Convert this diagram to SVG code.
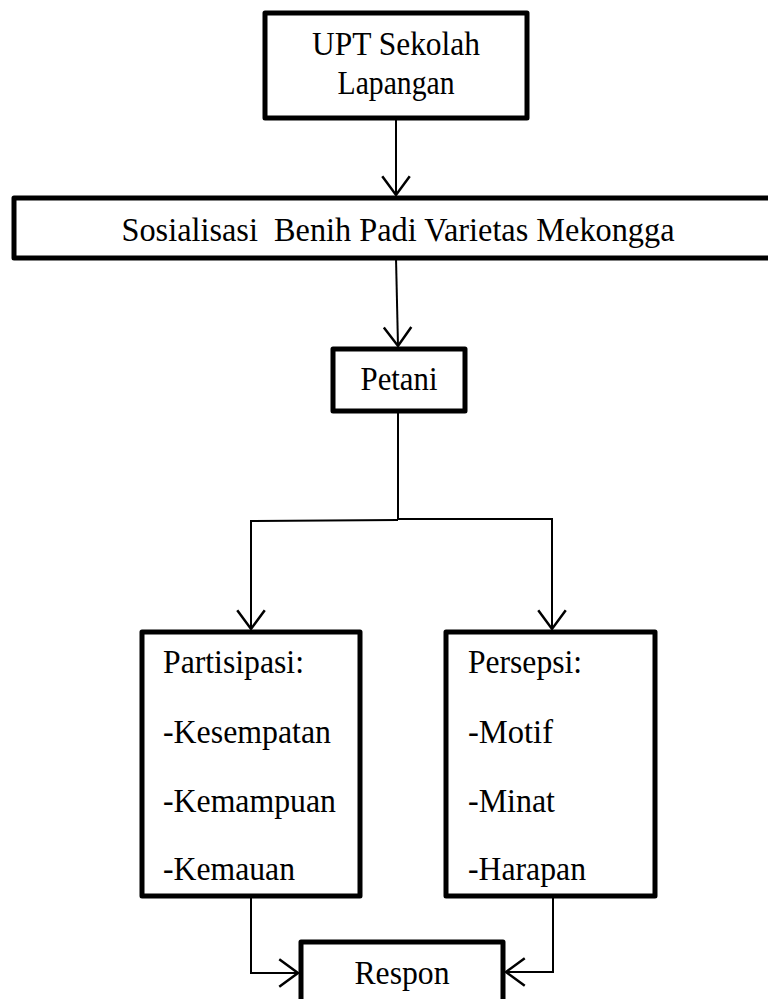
<svg xmlns="http://www.w3.org/2000/svg" width="768" height="999" viewBox="0 0 768 999">
<style>
.box{fill:#fff;stroke:#000;stroke-width:5;stroke-linejoin:round}
.t{font-family:'Liberation Serif','Tinos','Times New Roman','DejaVu Serif',serif;font-size:33px;fill:#000}
.c{text-anchor:middle}
.ln{fill:none;stroke:#000;stroke-width:2}
</style>
<defs>
<marker id="ah" markerUnits="userSpaceOnUse" markerWidth="30" markerHeight="30" viewBox="-17 -12 20 24" refX="0" refY="0" orient="auto">
<path d="M-15,-11 L0,0 L-15,11" fill="none" stroke="#000" stroke-width="2"/>
</marker>
</defs>
<rect width="768" height="999" fill="#fff"/>
<g id="connectors">
<line class="ln" x1="396" y1="118" x2="396" y2="195" marker-end="url(#ah)"/>
<line class="ln" x1="396" y1="258" x2="398" y2="346" marker-end="url(#ah)"/>
<polyline class="ln" points="398,412 398,520"/>
<polyline class="ln" points="398,520 251,521 251,629" marker-end="url(#ah)"/>
<polyline class="ln" points="398,519 552,519 552,629" marker-end="url(#ah)"/>
<polyline class="ln" points="251,896 251,973 298,973" marker-end="url(#ah)"/>
<polyline class="ln" points="553,896 553,972 506,972" marker-end="url(#ah)"/>
</g>
<g id="upt">
<rect class="box" x="265" y="13" width="262" height="105"/>
<text class="t c" x="396" y="55" textLength="168" lengthAdjust="spacingAndGlyphs">UPT Sekolah</text>
<text class="t c" x="396" y="94" textLength="117" lengthAdjust="spacingAndGlyphs">Lapangan</text>
</g>
<g id="sosialisasi">
<rect class="box" x="14" y="198" width="780" height="60"/>
<text class="t c" x="398" y="241" textLength="553" lengthAdjust="spacingAndGlyphs" xml:space="preserve">Sosialisasi  Benih Padi Varietas Mekongga</text>
</g>
<g id="petani">
<rect class="box" x="333" y="349" width="132" height="62"/>
<text class="t c" x="399" y="390" textLength="77" lengthAdjust="spacingAndGlyphs">Petani</text>
</g>
<g id="partisipasi">
<rect class="box" x="142" y="632" width="218" height="264"/>
<text class="t" x="163" y="673" textLength="141" lengthAdjust="spacingAndGlyphs">Partisipasi:</text>
<text class="t" x="163" y="743" textLength="168" lengthAdjust="spacingAndGlyphs">-Kesempatan</text>
<text class="t" x="163" y="812" textLength="173" lengthAdjust="spacingAndGlyphs">-Kemampuan</text>
<text class="t" x="163" y="880" textLength="132" lengthAdjust="spacingAndGlyphs">-Kemauan</text>
</g>
<g id="persepsi">
<rect class="box" x="446" y="632" width="209" height="264"/>
<text class="t" x="468" y="673" textLength="114" lengthAdjust="spacingAndGlyphs">Persepsi:</text>
<text class="t" x="468" y="743" textLength="85" lengthAdjust="spacingAndGlyphs">-Motif</text>
<text class="t" x="468" y="812" textLength="87" lengthAdjust="spacingAndGlyphs">-Minat</text>
<text class="t" x="468" y="880" textLength="118" lengthAdjust="spacingAndGlyphs">-Harapan</text>
</g>
<g id="respon">
<rect class="box" x="301" y="942" width="202" height="80"/>
<text class="t c" x="402" y="984" textLength="95" lengthAdjust="spacingAndGlyphs">Respon</text>
</g>
</svg>
